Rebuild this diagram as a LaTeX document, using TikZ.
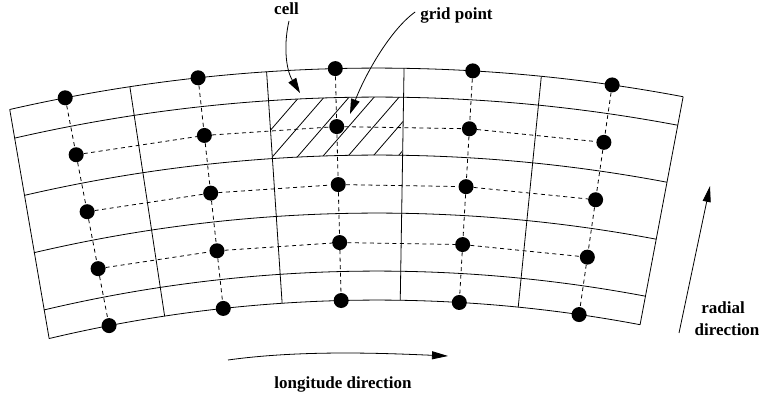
\documentclass[tikz,border=0pt]{standalone}
\usepackage{fontspec}
\setmainfont{Liberation Serif}
\usetikzlibrary{arrows.meta}

\begin{document}
\begin{tikzpicture}[x=1pt,y=1pt,
  gridline/.style={line width=0.8pt},
  link/.style={line width=0.8pt, dash pattern=on 4pt off 3.5pt},
  dot/.style={circle, fill=black, inner sep=0pt, minimum size=15pt},
  lbl/.style={font=\fontsize{17}{20}\selectfont\bfseries, inner sep=0pt, anchor=base},
  pointer/.style={line width=0.8pt, -{Triangle[length=15pt,width=9pt]}},
  axisarrow/.style={line width=0.8pt, -{Triangle[length=16pt,width=8pt]}},
]
\useasboundingbox (0,0) rectangle (761,-401);
% centre of the concentric arcs
\coordinate (C) at (377,-1717);

% hatched cell (behind the grid lines)
\begin{scope}
  \clip ([shift={(93.84:1620pt)}]C) arc[start angle=93.84, end angle=89.06, radius=1620pt]
     -- ([shift={(89.06:1562pt)}]C) arc[start angle=89.06, end angle=93.84, radius=1562pt] -- cycle;
  \foreach \x in {300,325,...,450}
    \draw[gridline] ({\x-64},-170) -- ({\x+14},-80);
\end{scope}

% arcs of constant radius (left end follows the slightly tilted left edge)
\foreach \r/\a in {1649/102.87, 1620/102.93, 1562/103.06, 1504/103.19, 1446/103.32, 1417/103.38}
  \draw[gridline] ([shift={(\a:\r pt)}]C) arc[start angle=\a, end angle=79.3, radius=\r pt];

% radial lines
\draw[gridline] ([shift={(102.87:1649pt)}]C) -- ([shift={(103.38:1417pt)}]C);
\foreach \a in {98.62, 93.84, 89.06, 84.28, 79.3}
  \draw[gridline] ([shift={(\a:1649pt)}]C) -- ([shift={(\a:1417pt)}]C);

% grid points at the cell centres
\foreach \c/\a in {1/100.9, 2/96.23, 3/91.45, 4/86.67, 5/81.8}
  \foreach \j/\r in {0/1649, 1/1591, 2/1533, 3/1475, 4/1417}
    \node[dot] (d\c\j) at ([shift={(\a:\r pt)}]C) {};

% dashed links between grid points
\foreach \c in {1,...,5}
  \draw[link] (d\c0) -- (d\c1) -- (d\c2) -- (d\c3) -- (d\c4);
\foreach \j in {1,2,3}
  \draw[link] (d1\j) -- (d2\j) -- (d3\j) -- (d4\j) -- (d5\j);

% labels with pointers
\node[lbl] (celllbl) at (286.5,-15) {cell};
\coordinate (celltip) at (300,-93);
\draw[pointer] ([xshift=2.5pt,yshift=-6pt]celllbl.base) .. controls (284,-42) and (285,-68) .. (celltip);

\node[lbl] (gridlbl) at (456.5,-20) {grid point};
\coordinate (gridtip) at (350,-114);
\draw[pointer] ([xshift=-5pt,yshift=4pt]gridlbl.west) .. controls (390,-30) and (365,-75) .. (gridtip);

% direction arrows
\coordinate (lonA) at (228,-360);
\coordinate (lonB) at (448,-356);
\draw[axisarrow] (lonA) .. controls (300,-350) and (380,-353) .. (lonB);
\node[lbl] (lonlbl) at (343,-388) {longitude direction};

\coordinate (radA) at (679,-333);
\coordinate (radB) at (710,-186);
\draw[axisarrow] (radA) -- (radB);
\node[lbl] (radlbl1) at (723,-313.5) {radial};
\node[lbl] (radlbl2) at (727,-335) {direction};
\end{tikzpicture}
\end{document}
